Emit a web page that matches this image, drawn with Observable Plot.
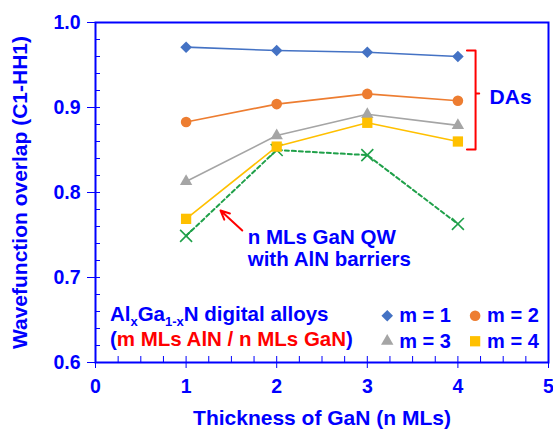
<!DOCTYPE html>
<html>
<head>
<meta charset="utf-8">
<script src="https://cdn.jsdelivr.net/npm/d3@7"></script>
<script src="https://cdn.jsdelivr.net/npm/@observablehq/plot@0.6"></script>
<style>
  html, body { margin: 0; padding: 0; background: #fff; }
  #chart { width: 553px; height: 431px; }
</style>
</head>
<body>
<div id="chart"></div>
<script>
// ---- data ----
const nMLs = [1, 2, 3, 4];
const m1 = [0.971, 0.967, 0.965, 0.960];
const m2 = [0.883, 0.904, 0.916, 0.908];
const m3 = [0.813, 0.867, 0.892, 0.879];
const m4 = [0.769, 0.854, 0.882, 0.860];
const qw = [0.749, 0.850, 0.844, 0.763];

const seriesNames = ["m = 1", "m = 2", "m = 3", "m = 4"];
const seriesValues = [m1, m2, m3, m4];
const seriesColors = ["#4472c4", "#ed7d31", "#a5a5a5", "#ffc000"];
const seriesSymbols = ["diamond2", "circle", "triangle", "square"];
const seriesR = [5.2, 5.3, 4.6, 5.8];

const xTicks = [0, 1, 2, 3, 4, 5];
const xMinor = d3.range(0, 5.001, 0.25);
const yTicks = [0.6, 0.7, 0.8, 0.9, 1.0];
const yMinor = d3.range(0.6, 1.0001, 0.02);

// annotation anchors (data units)
const legendRows = [
  {name: "m = 1", x: 3.22, y: 0.655}, {name: "m = 2", x: 4.19, y: 0.655},
  {name: "m = 3", x: 3.22, y: 0.625}, {name: "m = 4", x: 4.19, y: 0.625}
];
const titleAnchor = {x: 0.165, y1: 0.6485, y2: 0.6185};
const qwLabel = {x: 1.68, y1: 0.7395, y2: 0.7135, lines: ["n MLs GaN QW", "with AlN barriers"]};
const qwArrow = {x1: 1.62, y1: 0.7553, x2: 1.38, y2: 0.7788};
const daLabel = {x: 4.35, y: 0.9045, text: "DAs"};
const bracket = {xl: 4.10, xr: 4.195, xn: 4.235, yt: 0.967, ym: 0.9165, yb: 0.8505};

const BLUE = "#0000ff";
const RED = "#ff0000";
const GREEN = "#1fa049";
const FONT = "'Liberation Sans', Arial, sans-serif";

// long table
const rows = [];
seriesNames.forEach((s, i) => nMLs.forEach((n, j) => rows.push({series: s, n, v: seriesValues[i][j]})));
const qwRows = nMLs.map((n, j) => ({n, v: qw[j]}));

const colorOf = Object.fromEntries(seriesNames.map((s, i) => [s, seriesColors[i]]));
const symOf = Object.fromEntries(seriesNames.map((s, i) => [s, seriesSymbols[i]]));
const rOf = Object.fromEntries(seriesNames.map((s, i) => [s, seriesR[i]]));

const bracketPath = [
  {x: bracket.xl, y: bracket.yt}, {x: bracket.xr, y: bracket.yt},
  {x: bracket.xr, y: bracket.ym}, {x: bracket.xn, y: bracket.ym},
  {x: bracket.xr, y: bracket.ym}, {x: bracket.xr, y: bracket.yb},
  {x: bracket.xl, y: bracket.yb}
];

function legendTitle(index, scales) {
  const g = d3.create("svg:g")
    .attr("font-family", FONT).attr("font-size", 20.5).attr("font-weight", "bold")
    .attr("text-anchor", "start");
  const t1 = g.append("text").attr("x", scales.x(titleAnchor.x)).attr("y", scales.y(titleAnchor.y1)).attr("fill", BLUE);
  t1.append("tspan").text("Al");
  t1.append("tspan").attr("font-size", 13).attr("dy", 5).text("x");
  t1.append("tspan").attr("dy", -5).text("Ga");
  t1.append("tspan").attr("font-size", 13).attr("dy", 5).text("1-x");
  t1.append("tspan").attr("dy", -5).text("N digital alloys");
  const t2 = g.append("text").attr("x", scales.x(titleAnchor.x)).attr("y", scales.y(titleAnchor.y2)).attr("fill", BLUE);
  t2.append("tspan").text("(");
  t2.append("tspan").attr("fill", RED).text("m MLs AlN / n MLs GaN");
  t2.append("tspan").text(")");
  return g.node();
}

const chart = Plot.plot({
  width: 553,
  height: 431,
  marginLeft: 95,
  marginRight: 5,
  marginTop: 22,
  marginBottom: 69,
  style: {fontFamily: FONT, color: BLUE, background: "#fff", overflow: "visible"},
  x: {domain: [0, 5]},
  y: {domain: [0.6, 1.0]},
  marks: [
    // axes
    Plot.axisX({ticks: xTicks, tickSize: 6, tickPadding: 11, tickFormat: "d", fontSize: 19.5, fontWeight: "bold", label: null}),
    Plot.axisX({ticks: [], label: "Thickness of GaN (n MLs)", labelAnchor: "center", labelArrow: "none", labelOffset: 62, fontSize: 21, fontWeight: "bold"}),
    Plot.axisX({ticks: xMinor, tickSize: -6, text: null, label: null}),
    Plot.axisY({ticks: yTicks, tickSize: 8, tickPadding: 7, tickFormat: ".1f", fontSize: 19.5, fontWeight: "bold", label: null}),
    Plot.axisY({ticks: [], label: "Wavefunction overlap (C1-HH1)", labelAnchor: "center", labelArrow: "none", labelOffset: 83, fontSize: 21, fontWeight: "bold"}),
    Plot.axisY({ticks: yMinor, tickSize: -5, text: null, label: null}),
    Plot.frame({stroke: BLUE, strokeWidth: 2}),
    // QW dashed series
    Plot.line(qwRows, {x: "n", y: "v", stroke: GREEN, strokeWidth: 2, strokeDasharray: "4,3"}),
    Plot.dot(qwRows, {x: "n", y: "v", symbol: "times", r: 5.5, stroke: GREEN, strokeWidth: 1.6}),
    // DA series
    Plot.line(rows, {x: "n", y: "v", z: "series", stroke: d => colorOf[d.series], strokeWidth: 1.6}),
    ...seriesNames.map(s => Plot.dot(rows.filter(d => d.series === s),
      {x: "n", y: "v", symbol: symOf[s], r: rOf[s], fill: colorOf[s], stroke: "none"})),
    // bracket and DAs label
    Plot.line(bracketPath, {x: "x", y: "y", stroke: RED, strokeWidth: 2}),
    Plot.text([daLabel], {x: "x", y: "y", text: "text", fill: BLUE, fontSize: 21, fontWeight: "bold", textAnchor: "start", lineAnchor: "bottom"}),
    // QW annotation
    Plot.arrow([qwArrow], {x1: "x1", y1: "y1", x2: "x2", y2: "y2", stroke: RED, strokeWidth: 2, headLength: 10, headAngle: 50}),
    Plot.text([qwLabel.lines[0]], {x: qwLabel.x, y: qwLabel.y1, text: d => d, fill: BLUE, fontSize: 20.5, fontWeight: "bold", textAnchor: "start", lineAnchor: "bottom"}),
    Plot.text([qwLabel.lines[1]], {x: qwLabel.x, y: qwLabel.y2, text: d => d, fill: BLUE, fontSize: 20.5, fontWeight: "bold", textAnchor: "start", lineAnchor: "bottom"}),
    // legend
    legendTitle,
    ...seriesNames.map((s, i) => Plot.dot([legendRows[i]], {x: "x", y: "y", symbol: symOf[s], r: rOf[s], fill: colorOf[s]})),
    Plot.text(legendRows, {x: "x", y: "y", text: "name", dx: 12, fill: BLUE, fontSize: 20, fontWeight: "bold", textAnchor: "start"})
  ]
});
document.getElementById("chart").appendChild(chart);
</script>
</body>
</html>
